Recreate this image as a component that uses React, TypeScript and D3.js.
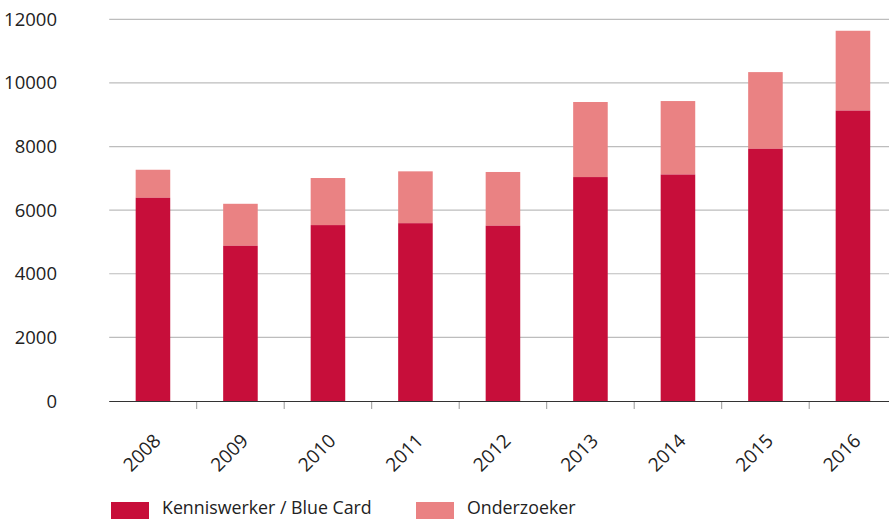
import React from "react";
import * as d3 from "d3";

const years = ["2008", "2009", "2010", "2011", "2012", "2013", "2014", "2015", "2016"];
const kenniswerker = [6390, 4880, 5530, 5590, 5510, 7040, 7120, 7930, 9130];
const onderzoeker = [880, 1320, 1480, 1630, 1690, 2360, 2310, 2410, 2510];
const yTicks = [0, 2000, 4000, 6000, 8000, 10000, 12000];
const seriesNames = ["Kenniswerker / Blue Card", "Onderzoeker"];
const colors = ["#C70E3A", "#EA8283"];

export default function App() {
  const W = 889, H = 519;
  const x0 = 109.2, bandW = 87.5;
  const x = d3.scaleBand<string>().domain(years).range([x0, x0 + bandW * years.length]).paddingInner(0.605).paddingOuter(0.3025);
  const y = d3.scaleLinear().domain([0, 12000]).range([401, 19.3]);
  const font = "'Open Sans', 'DejaVu Sans', sans-serif";
  return (
    <div style={{ position: "fixed", left: 0, top: 0 }}>
      <svg width={W} height={H} style={{ display: "block" }}>
        <rect width={W} height={H} fill="#fff" />
        {yTicks.map((t) => (
          <g key={t}>
            {t > 0 && <line x1={x0} x2={W} y1={y(t)} y2={y(t)} stroke="#bdbdbd" strokeWidth={1.2} />}
            <text x={57} y={y(t) + 6.5} textAnchor="end" fontFamily={font} fontSize={18.5} fill="#222">{t}</text>
          </g>
        ))}
        {years.map((yr, i) => {
          const bx = x(yr)!;
          const bw = x.bandwidth();
          const k = kenniswerker[i];
          const o = onderzoeker[i];
          return (
            <g key={yr}>
              <rect x={bx} width={bw} y={y(k + o)} height={y(k) - y(k + o)} fill={colors[1]} />
              <rect x={bx} width={bw} y={y(k)} height={y(0) - y(k)} fill={colors[0]} />
            </g>
          );
        })}
        <line x1={x0} x2={W} y1={401.5} y2={401.5} stroke="#333" strokeWidth={1.2} />
        {years.slice(1).map((yr, i) => {
          const tx = x0 + bandW * (i + 1);
          return <line key={yr} x1={tx} x2={tx} y1={402} y2={409} stroke="#999" strokeWidth={1} />;
        })}
        {years.map((yr) => {
          const cx = x(yr)! + x.bandwidth() / 2;
          return (
            <text key={yr} transform={`translate(${cx + 9},${442}) rotate(-45)`} textAnchor="end" fontFamily={font} fontSize={19} fill="#222">{yr}</text>
          );
        })}
        {seriesNames.map((name, i) => {
          const lx = i === 0 ? 111 : 416;
          return (
            <g key={name}>
              <rect x={lx} y={502} width={38} height={20} fill={colors[i]} />
              <text x={lx + 51} y={514} fontFamily={font} fontSize={17.8} fill="#222">{name}</text>
            </g>
          );
        })}
      </svg>
    </div>
  );
}
